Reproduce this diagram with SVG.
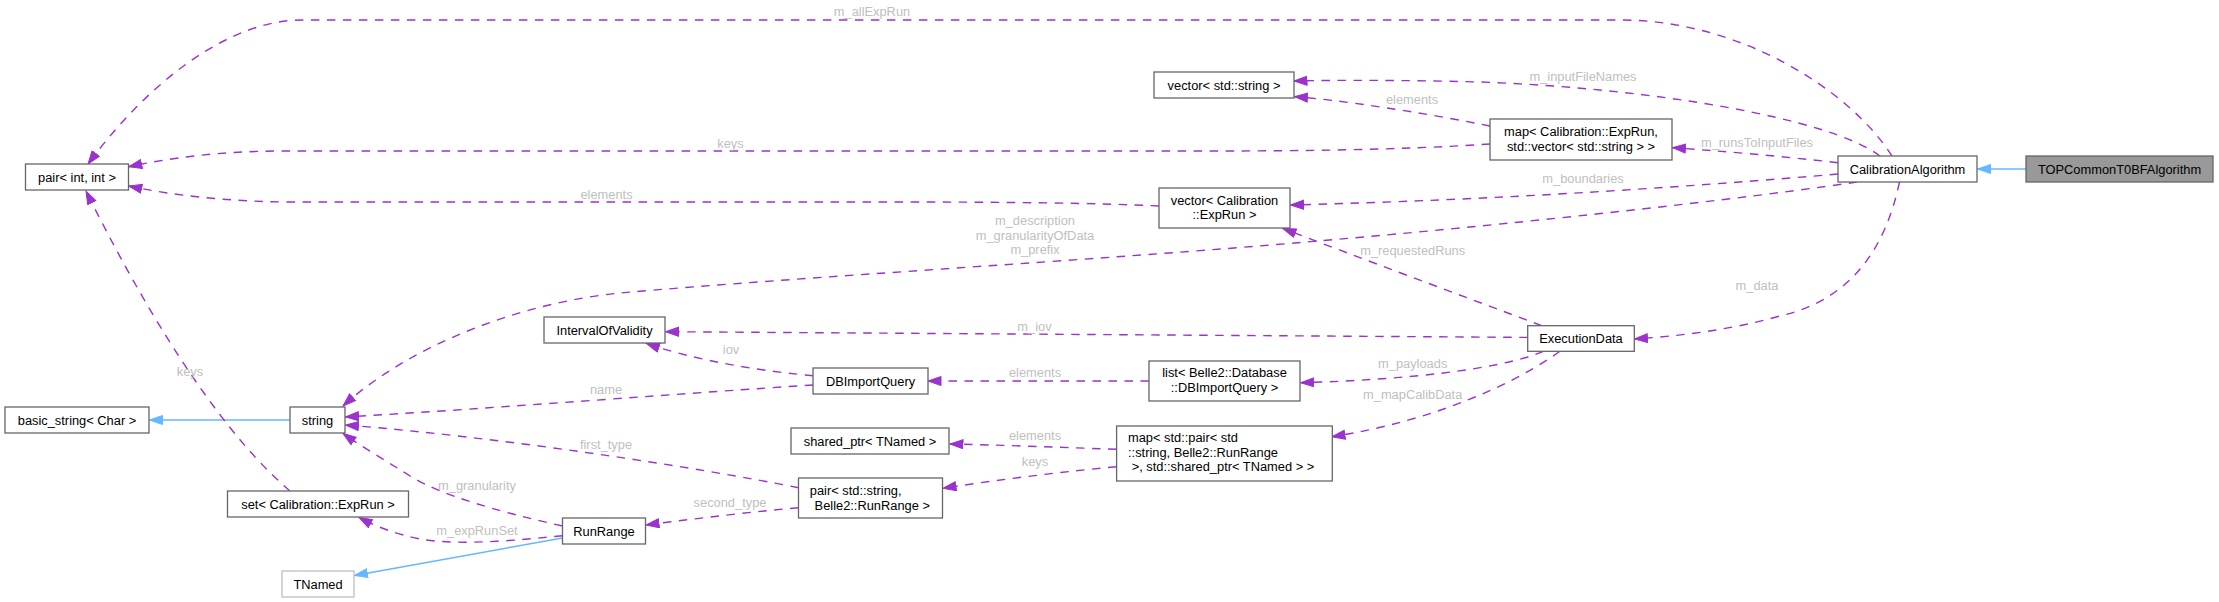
<svg xmlns="http://www.w3.org/2000/svg" width="2219" height="602" viewBox="0 0 2219 602">
<style>
  .node rect { fill: #ffffff; stroke: #666666; stroke-width: 1.3; }
  .node text { font-family: "Liberation Sans", Arial, sans-serif; font-size: 12.85px; fill: #000000; text-anchor: middle; }
  .node text.l { text-anchor: start; }
  .ext rect { stroke: #bfbfbf; }
  .cur rect { fill: #999999; }
  .edge { fill: none; stroke: #9a32cd; stroke-width: 1.4; stroke-dasharray: 8.5,7.5; marker-end: url(#ah); }
  .inh { fill: none; stroke: #63b8ff; stroke-width: 1.4; marker-end: url(#ahb); }
  .lbl { font-family: "Liberation Sans", Arial, sans-serif; font-size: 12.85px; fill: #c0c0c0; text-anchor: middle; }
</style>
<defs>
  <marker id="ah" markerUnits="userSpaceOnUse" markerWidth="15" markerHeight="11" refX="13.5" refY="5" orient="auto">
    <path d="M0.5,0.5 L13.5,5 L0.5,9.5 z" fill="#9a32cd" stroke="#9a32cd" stroke-width="1"/>
  </marker>
  <marker id="ahb" markerUnits="userSpaceOnUse" markerWidth="15" markerHeight="11" refX="13.5" refY="5" orient="auto">
    <path d="M0.5,0.5 L13.5,5 L0.5,9.5 z" fill="#63b8ff" stroke="#63b8ff" stroke-width="1"/>
  </marker>
</defs>
<rect x="0" y="0" width="2219" height="602" fill="#ffffff"/>

<g id="connectors">
  <path class="inh" d="M2026,169 L1977.5,169"/>
  <path class="inh" d="M290,420 L149.5,420"/>
  <path class="inh" d="M562.5,538 L354.5,575.5"/>

  <path class="edge" d="M1892,156 C1850,90 1740,20 1621,20 L302,20 C230,20 150,80 88,164"/>
  <path class="edge" d="M1880,156 C1830,118 1650,88 1480,82 C1400,80 1340,80 1294,81"/>
  <path class="edge" d="M1490,126 C1420,112 1340,100 1294.5,96.7"/>
  <path class="edge" d="M1490,144 C1400,150 1300,151 1200,151 L283,151 C220,151 170,158 128.8,166.7"/>
  <path class="edge" d="M1838,162.7 C1780,156 1720,151 1672.5,147.7"/>
  <path class="edge" d="M1838,174 C1700,186 1500,200 1290.5,205"/>
  <path class="edge" d="M1159,206 C1100,203 1000,202 900,202 L293,202 C230,202 170,195 128.8,186"/>
  <path class="edge" d="M1857,182 C1700,205 1450,230 1306,242 C1100,260 800,277 620,293 C520,303 410,345 343,406"/>
  <path class="edge" d="M1899.5,182 C1885,250 1850,300 1780,316 C1730,330 1680,336 1634.5,339"/>
  <path class="edge" d="M1541.7,325.7 C1460,295 1360,258 1283,228.5"/>
  <path class="edge" d="M1527.7,337.4 L665.5,331.7"/>
  <path class="edge" d="M1543.3,351.3 C1500,370 1400,380 1300.8,382.7"/>
  <path class="edge" d="M1560,351.3 C1520,380 1440,420 1332,436.7"/>
  <path class="edge" d="M813,375.7 C770,372 700,362 646.5,343.5"/>
  <path class="edge" d="M813,385 C700,392 500,408 345.5,417"/>
  <path class="edge" d="M1149,381 L928,381"/>
  <path class="edge" d="M1116.6,449.3 C1050,447 1000,445 950,444"/>
  <path class="edge" d="M1116.6,466.7 C1050,473 990,481 943,488.3"/>
  <path class="edge" d="M798.5,487.7 C700,468 500,437 345.5,425"/>
  <path class="edge" d="M798.5,507.7 C750,512 700,518 646,525"/>
  <path class="edge" d="M562.5,526 C500,512 440,495 410,476 C385,460 362,447 343,433.5"/>
  <path class="edge" d="M562.5,535.7 C520,540 460,546 420,539 C395,534 375,526 359,517.5"/>
  <path class="edge" d="M290,491 C230,440 160,340 86,191"/>

  <text class="lbl" x="872" y="16.3">m_allExpRun</text>
  <text class="lbl" x="1583" y="80.6">m_inputFileNames</text>
  <text class="lbl" x="1412" y="103.6">elements</text>
  <text class="lbl" x="730.5" y="147.6">keys</text>
  <text class="lbl" x="1757" y="147.3">m_runsToInputFiles</text>
  <text class="lbl" x="1583" y="183.3">m_boundaries</text>
  <text class="lbl" x="606.5" y="198.9">elements</text>
  <text class="lbl" x="1035" y="224.6">m_description</text>
  <text class="lbl" x="1035" y="239.6">m_granularityOfData</text>
  <text class="lbl" x="1035" y="253.6">m_prefix</text>
  <text class="lbl" x="1412.7" y="255.3">m_requestedRuns</text>
  <text class="lbl" x="1757" y="289.6">m_data</text>
  <text class="lbl" x="1034.5" y="331.3">m_iov</text>
  <text class="lbl" x="731" y="353.6">iov</text>
  <text class="lbl" x="1412.7" y="367.9">m_payloads</text>
  <text class="lbl" x="1035" y="377.3">elements</text>
  <text class="lbl" x="606" y="393.6">name</text>
  <text class="lbl" x="1412.7" y="398.9">m_mapCalibData</text>
  <text class="lbl" x="1035" y="440.3">elements</text>
  <text class="lbl" x="606" y="448.6">first_type</text>
  <text class="lbl" x="1035" y="465.6">keys</text>
  <text class="lbl" x="190" y="376.3">keys</text>
  <text class="lbl" x="477" y="489.6">m_granularity</text>
  <text class="lbl" x="730" y="506.6">second_type</text>
  <text class="lbl" x="477" y="534.6">m_expRunSet</text>
</g>

<g id="TOPCommonT0BFAlgorithm" class="node cur">
  <rect x="2026" y="156" width="187" height="26"/>
  <text x="2119.5" y="173.6">TOPCommonT0BFAlgorithm</text>
</g>
<g id="CalibrationAlgorithm" class="node">
  <rect x="1838" y="156" width="139" height="26"/>
  <text x="1907.5" y="173.6">CalibrationAlgorithm</text>
</g>
<g id="pair_int_int" class="node">
  <rect x="25.5" y="164" width="103" height="26"/>
  <text x="77" y="181.6">pair&lt; int, int &gt;</text>
</g>
<g id="vector_std_string" class="node">
  <rect x="1154" y="72" width="140" height="26"/>
  <text x="1224" y="89.6">vector&lt; std::string &gt;</text>
</g>
<g id="map_ExpRun_vector" class="node">
  <rect x="1490" y="119" width="182" height="41"/>
  <text x="1581" y="136.3">map&lt; Calibration::ExpRun,</text>
  <text x="1581" y="151.3">std::vector&lt; std::string &gt; &gt;</text>
</g>
<g id="vector_ExpRun" class="node">
  <rect x="1159" y="188" width="131" height="40"/>
  <text x="1224.5" y="204.6">vector&lt; Calibration</text>
  <text x="1224.5" y="218.9">::ExpRun &gt;</text>
</g>
<g id="ExecutionData" class="node">
  <rect x="1527.7" y="325.7" width="106.6" height="25.6"/>
  <text x="1581" y="343.1">ExecutionData</text>
</g>
<g id="IntervalOfValidity" class="node">
  <rect x="544" y="317" width="121" height="26"/>
  <text x="604.5" y="334.6">IntervalOfValidity</text>
</g>
<g id="DBImportQuery" class="node">
  <rect x="813" y="368" width="115" height="26"/>
  <text x="870.5" y="385.6">DBImportQuery</text>
</g>
<g id="list_DBImportQuery" class="node">
  <rect x="1149" y="361" width="151" height="40"/>
  <text x="1224.5" y="377.3">list&lt; Belle2::Database</text>
  <text x="1224.5" y="392.3">::DBImportQuery &gt;</text>
</g>
<g id="string" class="node">
  <rect x="290" y="407" width="55" height="26"/>
  <text x="317.5" y="424.6">string</text>
</g>
<g id="basic_string_Char" class="node">
  <rect x="5" y="407" width="144" height="26"/>
  <text x="77" y="424.6">basic_string&lt; Char &gt;</text>
</g>
<g id="set_ExpRun" class="node">
  <rect x="227.5" y="491" width="181" height="26"/>
  <text x="318" y="508.6">set&lt; Calibration::ExpRun &gt;</text>
</g>
<g id="RunRange" class="node">
  <rect x="562.5" y="518" width="83" height="26"/>
  <text x="604" y="535.6">RunRange</text>
</g>
<g id="TNamed" class="node ext">
  <rect x="282" y="571" width="72" height="26"/>
  <text x="318" y="588.6">TNamed</text>
</g>
<g id="shared_ptr_TNamed" class="node">
  <rect x="791" y="428" width="158" height="26"/>
  <text x="870" y="445.6">shared_ptr&lt; TNamed &gt;</text>
</g>
<g id="pair_string_RunRange" class="node">
  <rect x="798.5" y="478" width="144" height="40"/>
  <text class="l" x="809.8" y="495.3">pair&lt; std::string,</text>
  <text class="l" x="814.6" y="509.6">Belle2::RunRange &gt;</text>
</g>
<g id="map_pair_shared_ptr" class="node">
  <rect x="1116.6" y="426" width="215.7" height="55"/>
  <text class="l" x="1128" y="441.9">map&lt; std::pair&lt; std</text>
  <text class="l" x="1128" y="456.9">::string, Belle2::RunRange</text>
  <text class="l" x="1131.7" y="471.3">&gt;, std::shared_ptr&lt; TNamed &gt; &gt;</text>
</g>
</svg>
